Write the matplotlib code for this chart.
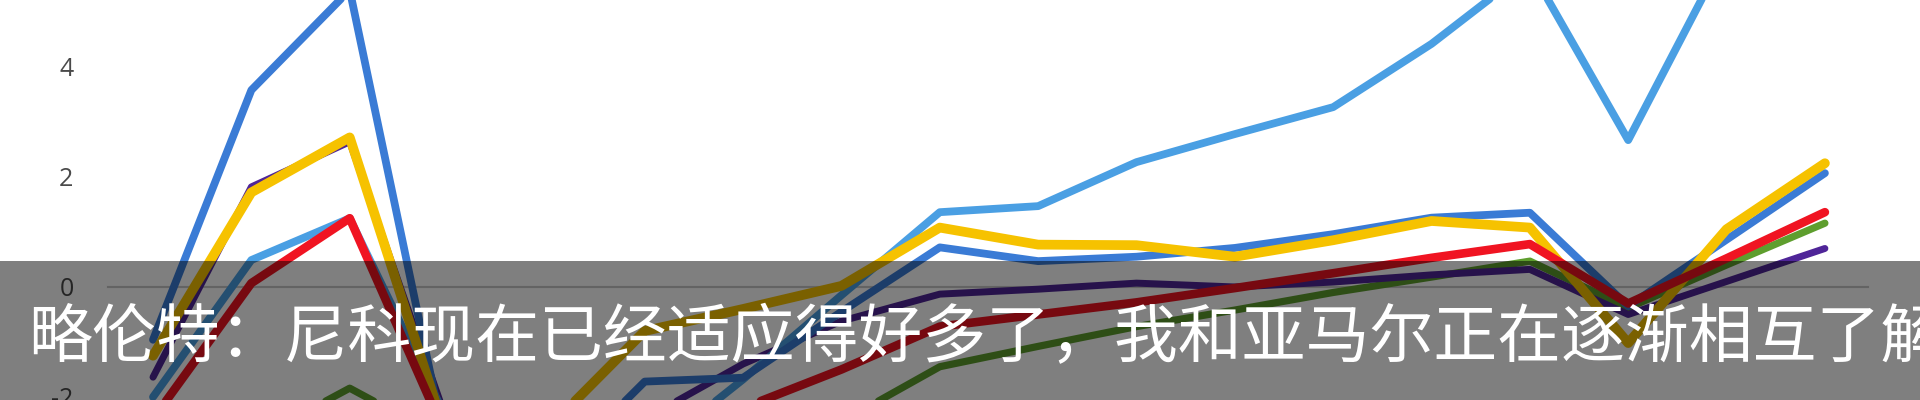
import matplotlib
matplotlib.use("Agg")
import matplotlib.pyplot as plt
from matplotlib.patches import Rectangle

plt.rcParams['axes.unicode_minus'] = False

# match rounds on the x axis (only their positions matter, no labels shown)
rounds = list(range(18))

blue = [-0.96, 3.58, 5.4, -3.1, -3.5, -1.72, -1.65, -0.45, 0.72, 0.47, 0.55, 0.71, 0.96, 1.26, 1.35, -0.35, 0.86, 2.07]
light_blue = [-2.0, 0.49, 1.25, -2.45, -3.0, -3.1, -1.68, -0.15, 1.36, 1.47, 2.27, 2.78, 3.27, 4.42, 5.8, 2.67, 6.1, 6.6]
yellow = [-1.25, 1.72, 2.72, -2.8, -2.6, -0.8, -0.4, 0.02, 1.08, 0.77, 0.76, 0.55, 0.85, 1.2, 1.08, -1.02, 1.05, 2.25]
purple = [-1.64, 1.82, 2.64, -2.5, -3.0, -2.4, -1.4, -0.62, -0.13, -0.04, 0.07, 0.0, 0.09, 0.22, 0.32, -0.5, 0.1, 0.7]
red = [-2.4, 0.07, 1.25, -2.8, -3.0, -2.7, -2.2, -1.5, -0.72, -0.5, -0.28, -0.02, 0.25, 0.53, 0.78, -0.3, 0.52, 1.36]
green = [-2.6, -2.8, -1.84, -2.8, -3.2, -3.0, -2.6, -2.45, -1.45, -1.08, -0.72, -0.42, -0.1, 0.18, 0.47, -0.38, 0.4, 1.16]

y_ticks = [-2, 0, 2, 4]
subtitle = "略伦特：尼科现在已经适应得好多了，我和亚马尔正在逐渐相互了解"

fig = plt.figure(figsize=(19.2, 4), dpi=100)
ax = fig.add_axes([0, 0, 1, 1])

# (values, colour, width, zorder)
series = [
    (green, '#5e9e2e', 5.2, 2),
    (purple, '#4f2598', 5.0, 3),
    (light_blue, '#4a9fe3', 5.6, 4),
    (blue, '#3a7bd5', 5.6, 5),
    (yellow, '#f6c200', 7.0, 6),
    (red, '#f01422', 6.2, 7),
]
for values, color, lw, z in series:
    ax.plot(rounds, values, color=color, lw=lw, zorder=z,
            solid_capstyle='round', solid_joinstyle='round')

ax.axhline(0, xmin=108 / 1920, xmax=1868 / 1920, color='#c8c8c8', lw=1.5, zorder=1)

ax.set_xlim(-1.556, 17.967)
ax.set_ylim(-2.055, 5.218)
ax.set_xticks([])
ax.set_yticks(y_ticks)
ax.tick_params(axis='y', length=0, pad=-53, labelsize=18, labelcolor='#4a4a4a')
for lab in ax.get_yticklabels():
    lab.set_fontfamily('Open Sans')
for s in ax.spines.values():
    s.set_visible(False)

# subtitle banner over the chart
fig.patches.append(Rectangle((0, 0), 1, 139 / 400, transform=fig.transFigure,
                             facecolor='black', alpha=0.5, edgecolor='none', zorder=5))
fig.text(28 / 1920, 1 - 357 / 400, subtitle, color='white', fontsize=46,
         family=['Noto Sans CJK SC', 'DejaVu Sans'], ha='left', va='baseline', zorder=6)

fig.savefig('out.png', dpi=100)
